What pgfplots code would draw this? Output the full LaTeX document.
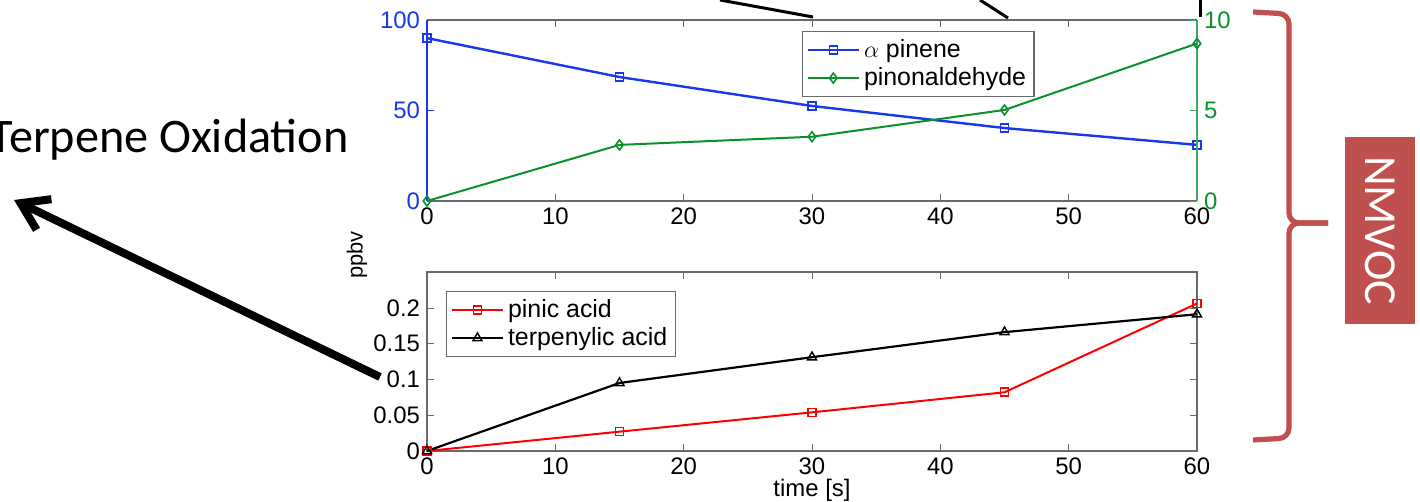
\documentclass[border=0pt]{standalone}
\usepackage{pgfplots}
\pgfplotsset{compat=1.18}
\usepackage{fontspec}
\setmainfont{Liberation Sans}
\newfontfamily\calibri{Carlito}
\usetikzlibrary{arrows.meta}
\definecolor{mblue}{RGB}{25,55,235}
\definecolor{mgreen}{RGB}{10,145,45}
\definecolor{agreen}{RGB}{60,175,95}
\definecolor{agray}{RGB}{105,105,105}
\definecolor{nred}{RGB}{192,80,77}
\begin{document}
\begin{tikzpicture}
\path[use as bounding box] (0,0) rectangle (710bp,251bp);
\pgfplotsset{
  mstyle/.style={
    scale only axis, width=385bp, xmin=0, xmax=60, xtick={0,10,20,30,40,50,60},
    tick align=inside, major tick length=3.5bp,
    /pgf/number format/assume math mode=true,
    tick label style={font=\fontsize{12}{14}\selectfont},
    legend style={font=\fontsize{12.5}{14}\selectfont, draw=agray, line width=0.6bp,
      cells={anchor=west}, inner sep=2bp, row sep=-0.5bp},
    legend image code/.code={\draw[mark repeat=2,mark phase=2] plot coordinates {(0cm,0cm)(0.45cm,0cm)(0.9cm,0cm)};},
  }
}
% top axis, left scale
\begin{axis}[mstyle, at={(213.5bp,150.5bp)}, anchor=south west, height=90.5bp,
  ymin=0, ymax=100, ytick={0,50,100},
  axis x line*=box, axis y line*=left, xtick pos=both,
  x axis line style={agray, line width=0.6bp}, y axis line style={mblue, line width=0.6bp},
  xtick style={agray}, ytick style={mblue}, yticklabel style={mblue}]
\addplot[mblue, line width=1.2bp, mark=square, mark size=2bp, mark options={solid, line width=0.8bp}]
  coordinates {(0,90)(15,68.5)(30,52.5)(45,40.3)(60,31)};
\end{axis}
% top axis, right scale
\begin{axis}[mstyle, at={(213.5bp,150.5bp)}, anchor=south west, height=90.5bp,
  ymin=0, ymax=10, ytick={0,5,10}, xtick=\empty,
  axis x line=none, axis y line*=right,
  y axis line style={agreen, line width=0.6bp}, ytick style={agreen}, yticklabel style={mgreen},
  legend style={at={(0.487,0.939)}, anchor=north west}]
\addlegendimage{mblue, line width=1.2bp, mark=square, mark size=2bp, mark options={line width=0.8bp}}
\addlegendentry{$\alpha$ pinene}
\addplot[mgreen, line width=1bp, mark=diamond, mark size=2.5bp, mark options={solid, line width=0.8bp}]
  coordinates {(0,0)(15,3.1)(30,3.55)(45,5.03)(60,8.7)};
\addlegendentry{pinonaldehyde}
\end{axis}
% bottom axis
\begin{axis}[mstyle, at={(213.5bp,25.5bp)}, anchor=south west, height=89.5bp,
  ymin=0, ymax=0.25, ytick={0,0.05,0.1,0.15,0.2}, scaled y ticks=false,
  yticklabel style={/pgf/number format/fixed, /pgf/number format/precision=2},
  axis line style={agray, line width=0.6bp}, tick style={agray},
  xlabel={time [s]}, xlabel style={font=\fontsize{12}{14}\selectfont, inner sep=0pt, yshift=1.5bp},
  legend style={at={(0.025,0.894)}, anchor=north west}]
\addplot[red, line width=1bp, mark=square, mark size=2bp, mark options={solid, line width=0.8bp}]
  coordinates {(0,0)(15,0.027)(30,0.054)(45,0.082)(60,0.206)};
\addlegendentry{pinic acid}
\addplot[black, line width=1.1bp, mark=triangle, mark size=2.6bp, mark options={solid, line width=0.7bp}]
  coordinates {(0,0)(15,0.095)(30,0.131)(45,0.166)(60,0.191)};
\addlegendentry{terpenylic acid}
\end{axis}
% ylabel
\node[rotate=90, font=\fontsize{11}{13}\selectfont] at (178.5bp,123.5bp) {ppbv};
% annotation text and arrow
\node[anchor=base east, font=\calibri\fontsize{24.2}{28}\selectfont, inner sep=0pt] at (174.5bp,174.5bp) {Terpene Oxidation};
\draw[line width=4bp, -{Straight Barb[length=13bp, width=17bp]}] (190bp,62.5bp) -- (7bp,151bp);
% lines from above
\draw[line width=1.5bp] (360bp,251bp) -- (406.5bp,242.5bp);
\draw[line width=1.5bp] (490bp,251bp) -- (504bp,242bp);
\draw[line width=1.5bp] (600bp,251bp) -- (600bp,242.5bp);
% brace
\draw[nred, line width=2.6bp, rounded corners=5bp] (626.5bp,245bp) -- (644.5bp,244bp) -- (644.5bp,139.5bp) -- (664bp,139.5bp);
\draw[nred, line width=2.6bp, rounded corners=5bp] (664bp,139.5bp) -- (644.5bp,139.5bp) -- (644.5bp,32bp) -- (626.5bp,31bp);
% NMVOC box
\fill[nred] (672.5bp,89bp) rectangle (707.5bp,182.5bp);
\node[rotate=-90, text=white, font=\calibri\fontsize{23}{27}\selectfont, inner sep=0pt] at (690bp,135.75bp) {NMVOC};
\end{tikzpicture}
\end{document}
